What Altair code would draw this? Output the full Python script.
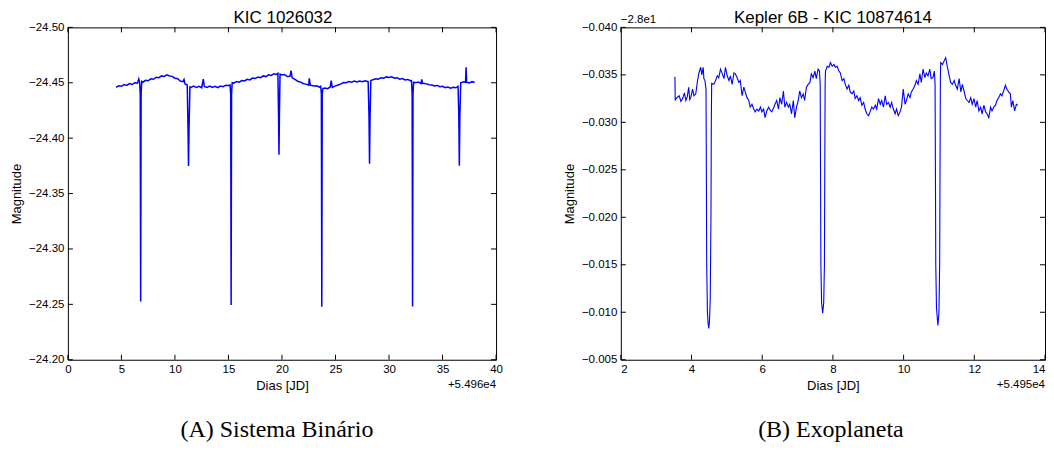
import altair as alt
import pandas as pd

# ---------------- data ----------------
# Panel A: KIC 1026032, days offset +5.496e4, magnitude
binary_curve = [
    (4.50, -24.4458), (4.75, -24.4472), (5.00, -24.4468), (5.25, -24.4484), (5.50, -24.4476),
    (5.75, -24.4492), (6.00, -24.4484), (6.25, -24.4500), (6.50, -24.4497), (6.62, -24.4535),
    (6.70, -24.4505), (6.76, -24.4400), (6.80, -24.2525), (6.84, -24.4400), (6.90, -24.4512),
    (7.00, -24.4505), (7.25, -24.4522), (7.50, -24.4518), (7.75, -24.4536), (8.00, -24.4532),
    (8.25, -24.4550), (8.50, -24.4546), (8.75, -24.4562), (9.00, -24.4557), (9.25, -24.4572),
    (9.50, -24.4561), (9.75, -24.4558), (10.00, -24.4541), (10.25, -24.4537), (10.50, -24.4515),
    (10.75, -24.4510), (10.85, -24.4530), (10.95, -24.4490), (11.15, -24.4480), (11.22, -24.4100),
    (11.27, -24.3750), (11.32, -24.4100), (11.40, -24.4462), (11.50, -24.4458), (11.75, -24.4470),
    (12.00, -24.4457), (12.25, -24.4468), (12.50, -24.4455), (12.65, -24.4532), (12.75, -24.4466),
    (13.00, -24.4458), (13.25, -24.4470), (13.50, -24.4458), (13.75, -24.4468), (14.00, -24.4455),
    (14.25, -24.4470), (14.50, -24.4465), (14.75, -24.4478), (15.00, -24.4475), (15.15, -24.4480),
    (15.21, -24.4400), (15.25, -24.2495), (15.29, -24.4400), (15.35, -24.4500), (15.50, -24.4497),
    (15.75, -24.4512), (16.00, -24.4506), (16.25, -24.4520), (16.50, -24.4516), (16.75, -24.4531),
    (17.00, -24.4526), (17.25, -24.4542), (17.50, -24.4538), (17.75, -24.4552), (18.00, -24.4546),
    (18.25, -24.4562), (18.50, -24.4556), (18.75, -24.4572), (19.00, -24.4566), (19.25, -24.4582),
    (19.50, -24.4576), (19.62, -24.4585), (19.68, -24.4200), (19.72, -24.3850), (19.76, -24.4200),
    (19.82, -24.4578), (20.00, -24.4570), (20.25, -24.4574), (20.50, -24.4556), (20.75, -24.4558),
    (20.85, -24.4610), (20.95, -24.4545), (21.25, -24.4528), (21.50, -24.4512), (21.75, -24.4506),
    (22.00, -24.4492), (22.25, -24.4488), (22.50, -24.4478), (22.55, -24.4540), (22.65, -24.4478),
    (23.00, -24.4470), (23.25, -24.4472), (23.50, -24.4460), (23.62, -24.4468), (23.68, -24.4400),
    (23.72, -24.2478), (23.76, -24.4400), (23.82, -24.4448), (24.00, -24.4452), (24.25, -24.4446),
    (24.50, -24.4460), (24.60, -24.4520), (24.70, -24.4458), (25.00, -24.4472), (25.25, -24.4480),
    (25.50, -24.4490), (25.75, -24.4502), (26.00, -24.4500), (26.25, -24.4512), (26.50, -24.4506),
    (26.75, -24.4515), (27.00, -24.4508), (27.25, -24.4516), (27.50, -24.4510), (27.75, -24.4518),
    (28.05, -24.4510), (28.13, -24.4200), (28.18, -24.3770), (28.23, -24.4200), (28.30, -24.4520),
    (28.50, -24.4528), (28.75, -24.4536), (29.00, -24.4532), (29.25, -24.4546), (29.50, -24.4542),
    (29.75, -24.4553), (30.00, -24.4548), (30.25, -24.4554), (30.50, -24.4542), (30.75, -24.4546),
    (31.00, -24.4532), (31.25, -24.4538), (31.50, -24.4526), (31.75, -24.4530), (32.00, -24.4518),
    (32.10, -24.4520), (32.16, -24.4400), (32.20, -24.2480), (32.24, -24.4400), (32.30, -24.4505),
    (32.50, -24.4500), (32.75, -24.4506), (33.00, -24.4492), (33.05, -24.4530), (33.15, -24.4495),
    (33.50, -24.4490), (33.75, -24.4482), (34.00, -24.4480), (34.25, -24.4472), (34.50, -24.4476),
    (34.75, -24.4464), (35.00, -24.4468), (35.25, -24.4456), (35.50, -24.4462), (35.75, -24.4452),
    (36.00, -24.4460), (36.25, -24.4455), (36.45, -24.4468), (36.52, -24.4200), (36.57, -24.3750),
    (36.62, -24.4200), (36.70, -24.4500), (37.00, -24.4508), (37.15, -24.4505), (37.20, -24.4640),
    (37.25, -24.4505), (37.50, -24.4498), (37.75, -24.4510), (38.00, -24.4502),
]

# Panel B: Kepler 6B, days offset +5.495e4, magnitude offset -2.8e1
planet_curve = [
    (3.53, -0.0348), (3.54, -0.0323), (3.56, -0.0325), (3.65, -0.0328), (3.70, -0.0322),
    (3.75, -0.0325), (3.80, -0.0331), (3.84, -0.0323), (3.88, -0.0327), (3.92, -0.0337),
    (3.95, -0.0324), (3.98, -0.0326), (4.03, -0.0335), (4.07, -0.0328), (4.12, -0.0330),
    (4.17, -0.0344), (4.21, -0.0352), (4.26, -0.0358), (4.29, -0.0350), (4.31, -0.0354),
    (4.33, -0.0358), (4.35, -0.0346), (4.38, -0.0344),
    (4.41, -0.0335), (4.42, -0.0250), (4.43, -0.0150), (4.45, -0.0100), (4.47, -0.0088),
    (4.49, -0.0083), (4.51, -0.0092), (4.53, -0.0115), (4.55, -0.0200), (4.56, -0.0300),
    (4.57, -0.0341),
    (4.63, -0.0340), (4.68, -0.0344), (4.73, -0.0349), (4.77, -0.0347), (4.82, -0.0356),
    (4.87, -0.0351), (4.92, -0.0346), (4.96, -0.0358), (5.01, -0.0349), (5.06, -0.0344),
    (5.10, -0.0349), (5.15, -0.0340), (5.20, -0.0352), (5.24, -0.0351), (5.29, -0.0347),
    (5.34, -0.0342), (5.38, -0.0344), (5.43, -0.0328), (5.48, -0.0337), (5.52, -0.0332),
    (5.57, -0.0326), (5.62, -0.0323), (5.66, -0.0316), (5.71, -0.0319), (5.76, -0.0314),
    (5.80, -0.0311), (5.85, -0.0314), (5.90, -0.0312), (5.95, -0.0316), (5.99, -0.0311),
    (6.04, -0.0314), (6.08, -0.0305), (6.13, -0.0312), (6.18, -0.0316), (6.22, -0.0313),
    (6.27, -0.0311), (6.32, -0.0315), (6.36, -0.0319), (6.41, -0.0323), (6.46, -0.0314),
    (6.50, -0.0326), (6.55, -0.0319), (6.60, -0.0333), (6.64, -0.0316), (6.69, -0.0321),
    (6.74, -0.0316), (6.78, -0.0319), (6.83, -0.0309), (6.88, -0.0323), (6.92, -0.0305),
    (6.97, -0.0316), (7.02, -0.0323), (7.06, -0.0333), (7.11, -0.0326), (7.16, -0.0330),
    (7.20, -0.0323), (7.25, -0.0337), (7.30, -0.0340), (7.35, -0.0342), (7.39, -0.0351),
    (7.44, -0.0347), (7.49, -0.0354), (7.53, -0.0346), (7.58, -0.0356), (7.62, -0.0354),
    (7.64, -0.0340), (7.65, -0.0250), (7.66, -0.0150), (7.68, -0.0110), (7.71, -0.0099),
    (7.74, -0.0110), (7.76, -0.0150), (7.77, -0.0250), (7.78, -0.0340),
    (7.79, -0.0354), (7.84, -0.0359), (7.89, -0.0358), (7.93, -0.0363), (7.98, -0.0359),
    (8.03, -0.0361), (8.07, -0.0358), (8.12, -0.0359), (8.17, -0.0354), (8.21, -0.0352),
    (8.26, -0.0344), (8.31, -0.0346), (8.35, -0.0340), (8.40, -0.0335), (8.45, -0.0339),
    (8.49, -0.0332), (8.54, -0.0330), (8.59, -0.0333), (8.63, -0.0325), (8.68, -0.0328),
    (8.73, -0.0323), (8.77, -0.0326), (8.82, -0.0318), (8.87, -0.0321), (8.91, -0.0314),
    (8.96, -0.0309), (9.01, -0.0307), (9.05, -0.0311), (9.10, -0.0316), (9.15, -0.0314),
    (9.20, -0.0318), (9.24, -0.0314), (9.29, -0.0325), (9.34, -0.0319), (9.38, -0.0323),
    (9.43, -0.0316), (9.48, -0.0328), (9.52, -0.0319), (9.57, -0.0321), (9.62, -0.0316),
    (9.66, -0.0321), (9.71, -0.0314), (9.76, -0.0309), (9.80, -0.0314), (9.85, -0.0307),
    (9.90, -0.0311), (9.94, -0.0316), (9.99, -0.0335), (10.04, -0.0319), (10.08, -0.0323),
    (10.13, -0.0330), (10.18, -0.0326), (10.22, -0.0332), (10.27, -0.0335), (10.32, -0.0339),
    (10.36, -0.0344), (10.41, -0.0340), (10.46, -0.0351), (10.50, -0.0342), (10.55, -0.0356),
    (10.60, -0.0347), (10.64, -0.0352), (10.69, -0.0349), (10.74, -0.0356), (10.78, -0.0346),
    (10.83, -0.0347), (10.87, -0.0354),
    (10.89, -0.0340), (10.90, -0.0250), (10.91, -0.0150), (10.93, -0.0105), (10.97, -0.0086),
    (11.00, -0.0100), (11.02, -0.0150), (11.03, -0.0250), (11.04, -0.0345),
    (11.05, -0.0363), (11.10, -0.0361), (11.15, -0.0365), (11.19, -0.0368), (11.24, -0.0358),
    (11.29, -0.0349), (11.33, -0.0342), (11.38, -0.0340), (11.43, -0.0344), (11.47, -0.0339),
    (11.52, -0.0335), (11.57, -0.0346), (11.62, -0.0332), (11.66, -0.0340), (11.71, -0.0333),
    (11.76, -0.0325), (11.80, -0.0323), (11.85, -0.0321), (11.90, -0.0326), (11.94, -0.0319),
    (11.99, -0.0325), (12.04, -0.0316), (12.08, -0.0323), (12.13, -0.0312), (12.18, -0.0316),
    (12.22, -0.0309), (12.27, -0.0318), (12.32, -0.0311), (12.36, -0.0309), (12.41, -0.0305),
    (12.46, -0.0316), (12.50, -0.0312), (12.55, -0.0316), (12.60, -0.0318), (12.64, -0.0323),
    (12.69, -0.0326), (12.74, -0.0330), (12.78, -0.0328), (12.83, -0.0333), (12.88, -0.0339),
    (12.92, -0.0335), (12.97, -0.0332), (13.02, -0.0330), (13.05, -0.0316), (13.09, -0.0323),
    (13.14, -0.0312), (13.19, -0.0319), (13.23, -0.0318),
]

binary_xticks = [0, 5, 10, 15, 20, 25, 30, 35, 40]
binary_yticks = [-24.50, -24.45, -24.40, -24.35, -24.30, -24.25, -24.20]
planet_xticks = [2, 4, 6, 8, 10, 12, 14]
planet_yticks = [-0.040, -0.035, -0.030, -0.025, -0.020, -0.015, -0.010, -0.005]

titles = ["KIC 1026032", "Kepler 6B - KIC 10874614"]
captions = ["(A) Sistema Binário", "(B) Exoplaneta"]
x_offset_labels = ["+5.496e4", "+5.495e4"]
y_offset_label = "\u22122.8e1"
x_title = "Dias [JD]"
y_title = "Magnitude"

# ---------------- layout / style ----------------
W_LEFT, W_RIGHT, H = 429, 425, 333
FONT = "Liberation Sans"
SERIF = "Liberation Serif"
TICK = 5


def text_layer(label, x, y, align, size, font=FONT, baseline="alphabetic"):
    return alt.Chart(pd.DataFrame({"t": [label]})).mark_text(
        align=align, baseline=baseline, font=font, fontSize=size, color="black"
    ).encode(x=alt.value(x), y=alt.value(y), text="t:N")


def panel(curve, W, xdom, xticks, ydom, yticks, yfmt, title, xoff, caption,
          yoff=None, lw=1.1, title_dx=0, cap_dx=-4, flush=False):
    df = pd.DataFrame(curve, columns=["d", "m"])
    xscale = alt.Scale(domain=xdom, nice=False, zero=False)
    yscale = alt.Scale(domain=ydom, reverse=True, nice=False, zero=False)
    common = dict(ticks=False, domain=False, grid=False, labelFont=FONT, titleFont=FONT,
                  labelFontSize=11.5, titleFontSize=13, titleFontWeight="normal",
                  labelColor="black", titleColor="black")
    xaxis = alt.Axis(values=xticks, format="d", title=x_title, labelPadding=4,
                     titlePadding=4, labelFlush=flush, **common)
    yaxis = alt.Axis(values=yticks, format=yfmt, title=y_title, labelPadding=4,
                     titlePadding=5, **common)

    line = alt.Chart(df).mark_line(color="#0000ff", strokeWidth=lw).encode(
        x=alt.X("d:Q", scale=xscale, axis=xaxis),
        y=alt.Y("m:Q", scale=yscale, axis=yaxis),
    )
    xt = pd.DataFrame({"d": xticks})
    yt = pd.DataFrame({"m": yticks})
    rule = dict(color="black", strokeWidth=1)
    t_bottom = alt.Chart(xt).mark_rule(**rule).encode(
        x="d:Q", y=alt.value(H), y2=alt.value(H - TICK))
    t_top = alt.Chart(xt).mark_rule(**rule).encode(
        x="d:Q", y=alt.value(0), y2=alt.value(TICK))
    t_left = alt.Chart(yt).mark_rule(**rule).encode(
        y="m:Q", x=alt.value(0), x2=alt.value(TICK))
    t_right = alt.Chart(yt).mark_rule(**rule).encode(
        y="m:Q", x=alt.value(W - TICK), x2=alt.value(W))

    layers = [
        line, t_bottom, t_top, t_left, t_right,
        text_layer(title, W / 2 + title_dx, -4, "center", 17),
        text_layer(xoff, W, H + 28, "right", 11.5),
        text_layer(caption, W / 2 + cap_dx, H + 70, "center", 24, font=SERIF, baseline="middle"),
    ]
    if yoff is not None:
        layers.append(text_layer(yoff, 0, -4, "left", 11.5))

    return alt.layer(*layers).properties(width=W, height=H)


left = panel(binary_curve, W_LEFT, [0, 40], binary_xticks, [-24.50, -24.20], binary_yticks,
             ".2f", titles[0], x_offset_labels[0], captions[0], lw=1.5, title_dx=1, cap_dx=-5)
right = panel(planet_curve, W_RIGHT, [2, 14], planet_xticks, [-0.040, -0.005], planet_yticks,
              ".3f", titles[1], x_offset_labels[1], captions[1], yoff=y_offset_label,
              cap_dx=-2, flush=True)

chart = alt.hconcat(left, right, spacing=125, bounds="flush").properties(
    padding={"left": 2, "top": 0, "right": 0, "bottom": 0},
    background="white",
).configure_view(stroke="black", strokeWidth=1)

chart.save("out.html", embed_options={"renderer": "svg", "actions": False})
